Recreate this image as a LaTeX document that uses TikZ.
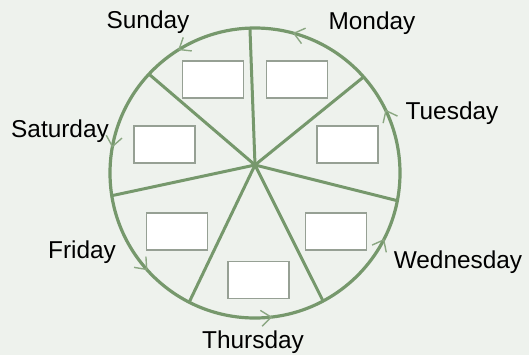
\documentclass[tikz,border=0pt]{standalone}
\usepackage{fontspec}
\setmainfont{Liberation Sans}
\usepackage{xcolor}
\usetikzlibrary{arrows.meta,decorations.markings}
\definecolor{wheelgreen}{RGB}{118,152,108}
\definecolor{paper}{RGB}{238,242,237}
\definecolor{boxedge}{RGB}{150,160,148}

\begin{document}
\begin{tikzpicture}[x=0.5pt,y=0.5pt,
  rim/.style={draw=wheelgreen,line width=1.6pt},
  spoke/.style={draw=wheelgreen,line width=1.5pt},
  blank/.style={draw=boxedge,fill=white,line width=0.7pt,minimum width=30.5pt,minimum height=18.5pt,inner sep=0pt},
  day/.style={font=\fontsize{12.2}{14}\selectfont,inner sep=0pt},
  turn/.style={decorate,decoration={markings,
    mark=at position 0.072 with {\arrow{daytip}},
    mark=at position 0.208 with {\arrow{daytip}},
    mark=at position 0.339 with {\arrow{daytip}},
    mark=at position 0.472 with {\arrow{daytip}},
    mark=at position 0.617 with {\arrow{daytip}},
    mark=at position 0.769 with {\arrow{daytip}},
    mark=at position 0.925 with {\arrow{daytip}}}},
  daytip/.tip={Straight Barb[length=5pt,width=8pt,line width=0.7pt,color=wheelgreen!85]}]
\fill[paper] (0,0) rectangle (529,355);
\useasboundingbox (0,0) rectangle (529,355);
\coordinate (C) at (255,182);
\coordinate (hub) at (255,190);
% rim and spokes
\draw[rim] (C) circle (145);
\path[turn] (C) circle (145);
\foreach \n/\a in {sun/92,mon/41.5,tue/-11,wed/-62,thu/243,fri/189,sat/137}
  \coordinate (\n) at ([shift={(\a:145)}]C);
\foreach \n in {sun,mon,tue,wed,thu,fri,sat}
  \draw[spoke] (hub) -- (\n);
% empty boxes
\node[blank] (bsun) at (213,275.5) {};
\node[blank] (bmon) at (297,275.5) {};
\node[blank] (bsat) at (164.5,210.5) {};
\node[blank] (btue) at (347.5,210.5) {};
\node[blank] (bfri) at (177,123.5) {};
\node[blank] (bwed) at (336,123.5) {};
\node[blank] (bthu) at (258.5,75) {};
% day names
\node[day] (lsun) at (148,333) {Sunday};
\node[day] (lmon) at (372,332) {Monday};
\node[day] (ltue) at (452,242) {Tuesday};
\node[day] (lsat) at (60,224) {Saturday};
\node[day] (lfri) at (82,103) {Friday};
\node[day] (lwed) at (458,93) {Wednesday};
\node[day] (lthu) at (253,13) {Thursday};
\end{tikzpicture}
\end{document}
